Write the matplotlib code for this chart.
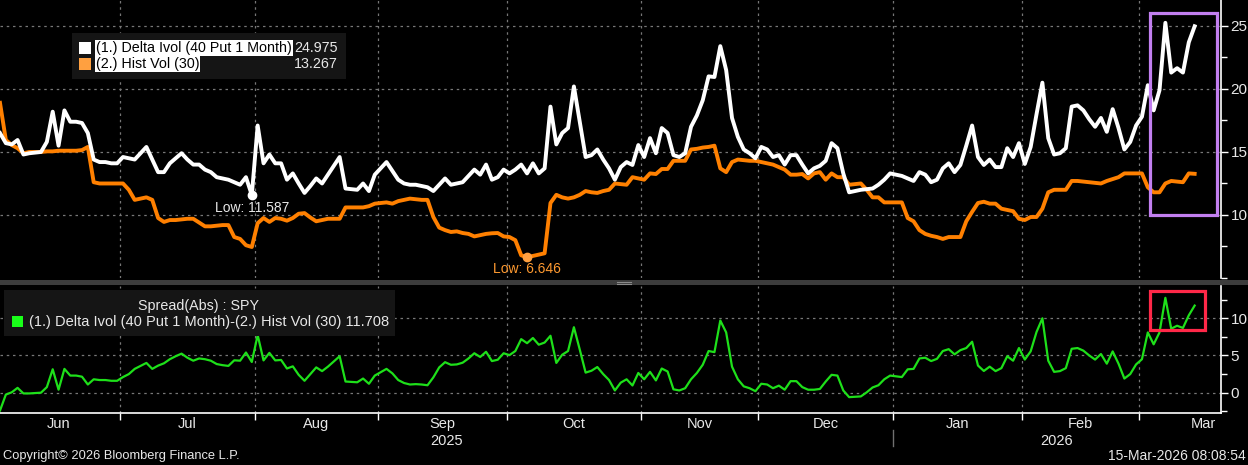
import numpy as np
import pandas as pd
import matplotlib
matplotlib.use("Agg")
import matplotlib.pyplot as plt
from matplotlib.patches import Rectangle
from matplotlib.lines import Line2D

# daily (weekday) closes, 2-Jun-2025 .. 13-Mar-2026
dates = pd.bdate_range("2025-06-02", "2026-03-13")

delta_ivol = [
    16.5, 15.7, 15.6, 15.95, 14.8, 14.9, 14.95, 15.0, 15.8, 18.2,
    15.5, 18.3, 17.4, 17.4, 17.3, 16.5, 14.4, 14.2, 14.2, 14.1,
    14.1, 14.6, 14.5, 14.4, 14.9, 15.4, 14.4, 13.4, 13.4, 14.1,
    14.5, 14.9, 14.4, 14.0, 14.0, 13.6, 13.4, 13.0, 12.9, 12.8,
    12.6, 12.4, 13.0, 11.587, 17.1, 14.1, 14.8, 14.1, 14.1, 12.8,
    13.3, 12.5, 11.75, 12.3, 12.9, 12.5, 13.2, 13.9, 14.6, 12.1,
    12.05, 12.0, 12.5, 11.9, 13.2, 13.7, 14.2, 13.5, 12.8, 12.5,
    12.4, 12.4, 12.3, 12.2, 11.9, 12.4, 12.9, 12.4, 12.5, 12.6,
    13.1, 13.6, 13.2, 14.0, 12.8, 13.0, 13.6, 13.3, 13.6, 14.0,
    13.3, 14.1, 13.3, 13.7, 18.6, 15.6, 16.5, 16.9, 20.2, 17.4,
    14.6, 14.75, 15.2, 14.4, 13.7, 12.8, 13.8, 14.2, 13.97, 15.55,
    14.6, 16.1, 14.9, 16.9, 16.5, 14.75, 14.6, 14.9, 17.0, 17.9,
    19.1, 21.0, 20.95, 23.4, 21.5, 17.7, 16.2, 15.2, 14.9, 14.5,
    15.4, 15.2, 14.6, 14.75, 14.0, 14.75, 14.75, 14.0, 13.3, 13.7,
    13.9, 14.3, 15.7, 15.3, 13.3, 11.8, 11.9, 12.0, 12.05, 12.1,
    12.4, 12.8, 13.3, 13.2, 13.1, 12.9, 12.7, 13.4, 13.2, 12.6,
    12.8, 13.7, 14.1, 13.4, 13.97, 15.5, 17.1, 14.6, 13.97, 14.4,
    13.8, 13.8, 15.3, 14.6, 15.7, 14.05, 15.4, 18.0, 20.5, 16.1,
    14.8, 14.9, 15.3, 18.6, 18.7, 18.3, 17.6, 17.0, 17.7, 16.6,
    18.4, 16.9, 15.2, 15.8, 17.1, 17.8, 20.3, 18.3, 19.9, 25.25,
    21.3, 21.65, 21.3, 23.7, 24.975,
]

hist_vol = [
    18.9, 15.95, 15.55, 15.3, 14.9, 15.0, 15.0, 15.0, 15.05, 15.05,
    15.1, 15.1, 15.1, 15.1, 15.15, 15.4, 12.6, 12.5, 12.5, 12.5,
    12.5, 12.5, 12.0, 11.2, 11.3, 11.4, 11.2, 9.76, 9.45, 9.6,
    9.6, 9.65, 9.7, 9.7, 9.4, 9.1, 9.1, 9.15, 9.2, 9.2,
    8.25, 8.1, 7.6, 7.46, 9.35, 9.76, 9.45, 9.76, 9.7, 9.55,
    9.76, 10.1, 10.15, 9.8, 9.5, 9.6, 9.7, 9.7, 9.7, 10.6,
    10.6, 10.6, 10.6, 10.7, 10.9, 10.95, 11.0, 10.9, 11.1, 11.2,
    11.3, 11.25, 11.2, 11.2, 9.84, 9.0, 8.8, 8.65, 8.7, 8.57,
    8.5, 8.3, 8.4, 8.5, 8.55, 8.57, 8.3, 8.25, 8.0, 6.8,
    6.646, 6.75, 6.85, 6.96, 10.95, 11.6, 11.4, 11.3, 11.4, 11.6,
    11.9, 11.8, 11.75, 11.9, 12.0, 12.5, 12.45, 12.4, 13.0, 12.9,
    12.8, 13.3, 13.25, 13.65, 13.65, 14.3, 14.3, 14.3, 15.2, 15.25,
    15.35, 15.4, 15.5, 13.7, 13.4, 14.2, 14.4, 14.35, 14.3, 14.3,
    14.2, 14.1, 14.0, 13.8, 13.6, 13.2, 13.2, 13.25, 12.9, 13.3,
    13.4, 12.8, 13.3, 13.0, 13.0, 12.4, 12.45, 12.5, 12.0, 11.4,
    11.4, 11.0, 11.0, 11.0, 11.0, 9.76, 9.5, 8.8, 8.5, 8.35,
    8.25, 8.1, 8.25, 8.25, 8.25, 9.5, 10.25, 10.95, 11.05, 10.9,
    10.9, 10.5, 10.4, 10.3, 9.7, 9.6, 9.84, 9.84, 10.5, 11.8,
    12.0, 12.0, 12.0, 12.7, 12.7, 12.65, 12.6, 12.55, 12.5, 12.7,
    12.85, 13.0, 13.3, 13.3, 13.3, 13.3, 12.2, 11.8, 11.8, 12.5,
    12.7, 12.65, 12.6, 13.3, 13.267,
]

label_ivol = "(1.) Delta Ivol (40 Put 1 Month)"
label_hvol = "(2.) Hist Vol (30)"
spread_title = "Spread(Abs) : SPY"

ivol = np.array(delta_ivol)
hvol = np.array(hist_vol)
spread = ivol - hvol
pos = np.arange(len(dates))

W, H = 1248, 465
def fx(px):
    return px / W
def fy(py):
    return 1 - py / H

plt.rcParams['font.family'] = ["Liberation Sans", 'DejaVu Sans']
TXT = "#e8e8e8"
ORANGE = "#ff8000"
GREEN = "#1ee01a"
GRID = dict(color="#777777", lw=0.9, ls=(0, (2, 3)))

fig = plt.figure(figsize=(W / 100, H / 100), dpi=100, facecolor="black")
ax1 = fig.add_axes([0, fy(278), fx(1221), fy(0) - fy(278)])
ax2 = fig.add_axes([0, fy(413), fx(1221), fy(286) - fy(413)])

# month boundaries / label centres on the weekday axis
month_starts = pd.date_range("2025-06-01", "2026-03-01", freq="MS")
bounds, centers, names = [], [], []
for ms in month_starts:
    me = ms + pd.offsets.MonthEnd(0)
    n = len(pd.bdate_range(ms, me))
    b = np.searchsorted(dates, ms) - 0.5
    bounds.append(b)
    centers.append(b + n / 2)
    names.append(ms.strftime("%b"))
xmax = 208.5
year_split = np.searchsorted(dates, pd.Timestamp("2026-01-01")) - 0.5

for ax in (ax1, ax2):
    ax.set_facecolor("black")
    ax.set_xlim(0, xmax)
    for s in ("top", "left", "bottom"):
        ax.spines[s].set_visible(False)
    ax.spines["right"].set_color("white")
    ax.spines["right"].set_linewidth(1.2)
    ax.yaxis.tick_right()
    ax.tick_params(axis="y", colors="white", labelcolor=TXT, labelsize=11,
                   length=5, width=1, pad=2)
    ax.tick_params(axis="y", which="minor", colors="white", length=4, width=1)
    for b in bounds[1:]:
        ax.axvline(b, **GRID, zorder=0)

# top panel
ax1.plot(pos, ivol, color="white", lw=2.8, zorder=3)
ax1.plot(pos, hvol, color=ORANGE, lw=2.8, zorder=2)
ax1.set_ylim(5, 27.06)
ax1.set_yticks([10, 15, 20, 25])
ax1.set_yticks([5, 7.5, 12.5, 17.5, 22.5], minor=True)
for v in (10, 15, 20, 25):
    ax1.axhline(v, **GRID, zorder=0)
ax1.set_xticks([])

i_lo = int(np.argmin(ivol))
h_lo = int(np.argmin(hvol))
ax1.plot(i_lo, ivol[i_lo], "o", color="white", ms=6, zorder=4)
ax1.annotate(f"Low: {ivol[i_lo]:.3f}", (i_lo, ivol[i_lo]), xytext=(0, -13),
             textcoords="offset pixels", ha="center", va="center",
             color=TXT, fontsize=10)
ax1.plot(h_lo, hvol[h_lo], "o", color="#ffa040", ms=6, zorder=4)
ax1.annotate(f"Low: {hvol[h_lo]:.3f}", (h_lo, hvol[h_lo]), xytext=(0, -12),
             textcoords="offset pixels", ha="center", va="center",
             color="#ff9a30", fontsize=10)

ax1.add_patch(Rectangle((196.3, 10.0), 11.5, 16.05, fill=False,
                        ec="#c27ff0", lw=2.3, zorder=5))

# bottom panel
ax2.plot(pos, spread, color=GREEN, lw=1.6, zorder=3)
ax2.set_ylim(-2.73, 14.34)
ax2.set_yticks([0, 5, 10])
ax2.set_yticks([-2.5, 2.5, 7.5, 12.5], minor=True)
for v in (0, 5, 10):
    ax2.axhline(v, **GRID, zorder=0)
ax2.spines["bottom"].set_visible(True)
ax2.spines["bottom"].set_color("white")
ax2.spines["bottom"].set_linewidth(1.2)
ax2.set_xticks(bounds[1:])
ax2.set_xticklabels([])
ax2.set_xticks(centers, minor=True)
ax2.set_xticklabels(names, minor=True)
ax2.tick_params(axis="x", which="major", colors="white", length=5, width=1)
ax2.tick_params(axis="x", which="minor", length=0, labelcolor=TXT,
                labelsize=10.5, pad=3)
ax2.add_patch(Rectangle((196.3, 8.43), 9.4, 5.24, fill=False,
                        ec="#ff2848", lw=2.3, zorder=5))

# year row
tr = ax2.get_xaxis_transform()
ax2.text(year_split / 2, -0.22, "2025", transform=tr, ha="center",
         va="center", color=TXT, fontsize=10.5, clip_on=False)
ax2.text((year_split + xmax) / 2, -0.22, "2026", transform=tr, ha="center",
         va="center", color=TXT, fontsize=10.5, clip_on=False)
fig.add_artist(Line2D([fx(893), fx(893)], [fy(430), fy(446)],
                      color="#707070", lw=1))

# panel separator
fig.add_artist(Rectangle((0, fy(285)), 1, fy(280) - fy(285),
                         transform=fig.transFigure, color="#3c3c3c", lw=0))
fig.add_artist(Line2D([fx(617), fx(631)], [fy(282), fy(282)], color="#8a8a8a", lw=0.8))
fig.add_artist(Line2D([fx(617), fx(631)], [fy(284), fy(284)], color="#8a8a8a", lw=0.8))

# top legend
fig.add_artist(Rectangle((fx(72), fy(79)), fx(346) - fx(72), fy(33) - fy(79),
                         transform=fig.transFigure, color="#151515", lw=0))
fig.add_artist(Rectangle((fx(79), fy(54)), fx(12), fy(42) - fy(54),
                         transform=fig.transFigure, color="white", lw=0))
fig.add_artist(Rectangle((fx(79), fy(70)), fx(12), fy(58) - fy(70),
                         transform=fig.transFigure, color="#ffa040", lw=0))
lbl_box = dict(facecolor="white", edgecolor="none", pad=0.6)
fig.text(fx(96), fy(48), label_ivol, color="black", fontsize=10.3, va="center",
         bbox=lbl_box)
fig.text(fx(96), fy(64), label_hvol, color="black", fontsize=10.3, va="center",
         bbox=lbl_box)
fig.text(fx(338), fy(48), f"{ivol[-1]:.3f}", color=TXT, fontsize=10.3,
         va="center", ha="right")
fig.text(fx(338), fy(64), f"{hvol[-1]:.3f}", color=TXT, fontsize=10.3,
         va="center", ha="right")

# bottom legend
fig.add_artist(Rectangle((fx(4), fy(336)), fx(395) - fx(4), fy(290) - fy(336),
                         transform=fig.transFigure, color="#151515", lw=0))
fig.text(fx(199), fy(306), spread_title, color=TXT, fontsize=10.3,
         va="center", ha="center")
fig.add_artist(Rectangle((fx(12), fy(327)), fx(11), fy(316) - fy(327),
                         transform=fig.transFigure, color="#19ff19", lw=0))
fig.text(fx(29), fy(322), f"{label_ivol}-{label_hvol} {spread[-1]:.3f}",
         color=TXT, fontsize=10.5, va="center")

# footer
fig.text(fx(3), fy(456), "Copyright\u00a9 2026 Bloomberg Finance L.P.",
         color=TXT, fontsize=9.3, va="center")
fig.text(fx(1246), fy(456), "15-Mar-2026 08:08:54", color=TXT, fontsize=10,
         va="center", ha="right")

fig.savefig("out.png", dpi=100, facecolor="black")
